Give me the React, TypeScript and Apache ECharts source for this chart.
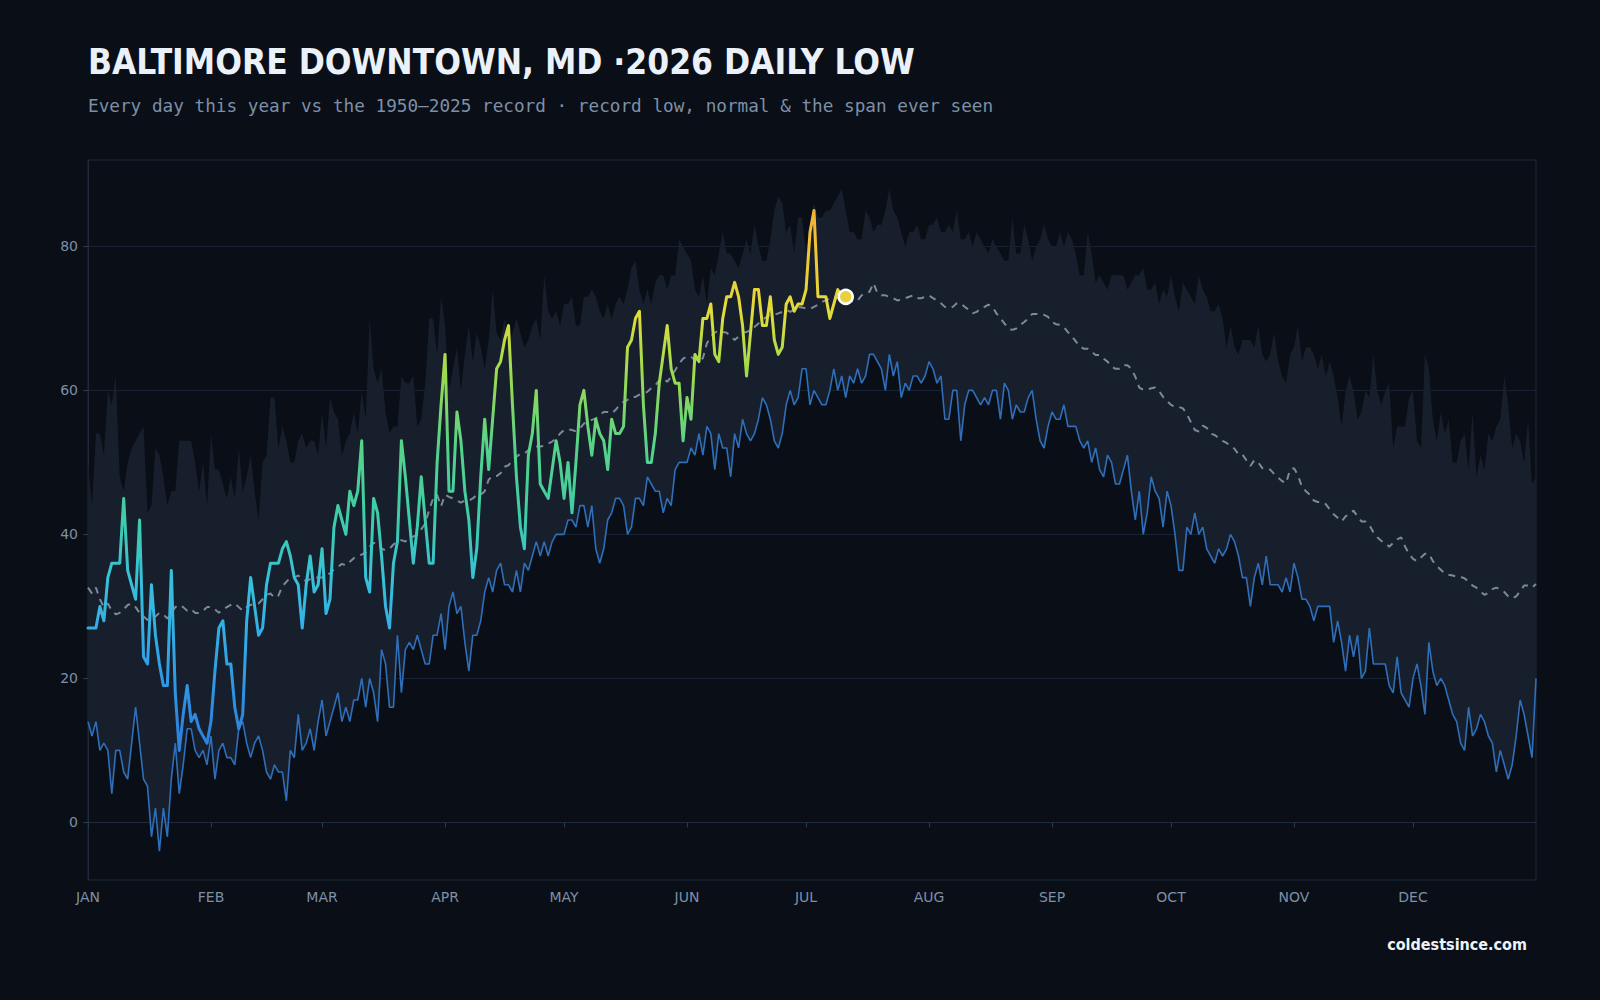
import React, { useEffect, useRef } from "react";
import * as echarts from "echarts";

// Day-of-year index where each month starts, and its axis label.
const MONTH_STARTS = [0, 31, 59, 90, 120, 151, 181, 212, 243, 273, 304, 334];
const MONTH_LABELS = ["JAN", "FEB", "MAR", "APR", "MAY", "JUN", "JUL", "AUG", "SEP", "OCT", "NOV", "DEC"];
const Y_TICKS = [0, 20, 40, 60, 80];

// Lowest daily low on record (1950–2025), °F, by day of year.
const RECORD_LOW = [
  14, 12, 14, 10, 11, 10, 4, 10, 10, 7,
  6, 11, 16, 11, 6, 5, -2, 2, -4, 2,
  -2, 6, 11, 4, 8, 13, 13, 10, 9, 10,
  8, 12, 6, 10, 11, 9, 9, 8, 13, 14,
  11, 9, 11, 12, 10, 7, 6, 8, 7, 7,
  3, 10, 9, 15, 10, 11, 13, 10, 14, 17,
  12, 14, 16, 18, 14, 16, 14, 17, 17, 20,
  16, 20, 18, 14, 24, 22, 16, 16, 26, 18,
  24, 25, 24, 26, 24, 22, 22, 26, 26, 29,
  24, 30, 32, 29, 30, 25, 21, 26, 26, 28,
  32, 34, 32, 35, 36, 33, 33, 32, 35, 32,
  36, 35, 37, 39, 37, 39, 37, 39, 40, 40,
  40, 42, 42, 41, 44, 44, 41, 44, 38, 36,
  38, 42, 43, 45, 45, 44, 40, 41, 45, 45,
  44, 48, 47, 46, 46, 43, 45, 44, 49, 50,
  50, 50, 52, 51, 54, 51, 55, 54, 49, 54,
  52, 52, 48, 54, 52, 56, 54, 53, 54, 56,
  59, 58, 56, 53, 52, 54, 58, 60, 58, 59,
  63, 63, 58, 60, 59, 58, 58, 60, 63, 60,
  62, 59, 62, 61, 63, 61, 62, 65, 65, 64,
  63, 60, 65, 62, 64, 59, 61, 60, 62, 62,
  61, 62, 64, 63, 61, 62, 56, 56, 60, 60,
  53, 58, 60, 60, 59, 58, 59, 58, 60, 60,
  56, 61, 60, 56, 58, 57, 57, 59, 60, 56,
  53, 52, 55, 57, 56, 56, 58, 55, 55, 55,
  53, 52, 53, 50, 52, 49, 48, 51, 50, 47,
  47, 49, 51, 46, 42, 46, 40, 43, 48, 46,
  45, 41, 46, 44, 40, 35, 35, 41, 40, 43,
  40, 41, 38, 37, 36, 38, 37, 38, 40, 39,
  37, 34, 34, 30, 34, 36, 33, 37, 33, 33,
  33, 32, 34, 32, 36, 34, 31, 31, 30, 28,
  30, 30, 30, 30, 25, 28, 25, 21, 26, 23,
  26, 20, 21, 27, 22, 22, 22, 22, 19, 18,
  23, 18, 17, 16, 20, 22, 19, 15, 25, 21,
  19, 20, 19, 17, 15, 14, 11, 10, 16, 12,
  13, 15, 14, 12, 11, 7, 10, 8, 6, 8,
  12, 17, 15, 12, 9, 20,
];

// Highest daily low on record (1950–2025), °F — top of the span ever seen.
const RECORD_HIGH = [
  50, 44, 54, 54, 51, 60, 58, 62, 48, 46,
  50, 52, 53, 54, 55, 43, 44, 52, 51, 48,
  44, 46, 46, 53, 53, 53, 53, 50, 46, 50,
  44, 54, 49, 49, 47, 45, 48, 45, 52, 46,
  48, 51, 46, 42, 50, 51, 59, 59, 52, 55,
  53, 50, 50, 53, 54, 52, 53, 53, 51, 57,
  52, 59, 57, 56, 51, 53, 54, 57, 54, 60,
  56, 70, 63, 61, 63, 57, 54, 55, 55, 62,
  61, 61, 62, 55, 56, 61, 70, 70, 65, 73,
  69, 60, 63, 66, 60, 65, 69, 64, 68, 66,
  63, 67, 74, 68, 67, 70, 66, 68, 70, 68,
  66, 67, 69, 70, 67, 76, 71, 70, 71, 69,
  72, 72, 73, 69, 69, 73, 73, 74, 73, 71,
  70, 72, 70, 72, 73, 72, 74, 77, 78, 74,
  72, 74, 72, 75, 76, 76, 74, 76, 76, 81,
  80, 79, 78, 74, 73, 76, 72, 77, 76, 79,
  82, 79, 79, 78, 77, 79, 81, 79, 83, 80,
  78, 78, 81, 85, 87, 86, 82, 83, 79, 84,
  84, 79, 83, 86, 84, 84, 85, 85, 86, 87,
  88, 85, 82, 82, 81, 81, 85, 84, 82, 83,
  83, 85, 88, 85, 84, 82, 80, 82, 82, 83,
  81, 81, 83, 83, 84, 82, 82, 83, 82, 85,
  81, 81, 82, 80, 82, 81, 80, 79, 81, 80,
  79, 78, 78, 84, 79, 79, 83, 81, 78, 80,
  81, 83, 81, 80, 80, 82, 80, 82, 81, 79,
  76, 76, 82, 79, 75, 76, 75, 74, 76, 76,
  76, 76, 74, 75, 76, 76, 77, 74, 74, 75,
  72, 74, 73, 76, 73, 71, 75, 74, 73, 72,
  76, 74, 73, 71, 71, 72, 70, 66, 69, 66,
  65, 67, 67, 67, 66, 69, 65, 64, 65, 68,
  64, 62, 61, 65, 66, 69, 64, 66, 66, 65,
  63, 65, 62, 64, 62, 59, 55, 60, 62, 60,
  56, 57, 60, 59, 65, 60, 58, 60, 61, 52,
  55, 55, 55, 59, 60, 53, 52, 65, 63, 56,
  53, 57, 54, 56, 50, 50, 53, 54, 49, 57,
  48, 51, 49, 54, 53, 55, 56, 62, 58, 52,
  54, 53, 50, 56, 47, 48,
];

// Normal daily low, °F.
const NORMAL = [
  32.6, 31.8, 32.6, 31, 29.9, 30.4, 29.4, 28.9, 29.1, 29.6,
  30.2, 30.4, 29.9, 29.1, 28.6, 28.1, 28.6, 28.6, 29.1, 28.9,
  28.3, 29.1, 29.9, 30.2, 29.9, 29.4, 29.6, 29.1, 29.1, 29.4,
  29.9, 29.9, 29.6, 29.1, 29.6, 29.9, 30.2, 30.4, 29.9, 29.4,
  29.9, 30.2, 30.4, 30.4, 31, 31.6, 31.8, 31.2, 31.5, 32.8,
  33.4, 34, 34, 34.3, 33.8, 33.5, 33.8, 34, 34, 34,
  34.3, 34.6, 35.1, 35.5, 35.9, 35.7, 36.2, 36.7, 37, 37.2,
  37.5, 38.3, 38.8, 38.8, 38, 37.8, 38, 38.6, 39.1, 39.2,
  39, 39.6, 39.7, 39.9, 40.7, 41.5, 43.4, 45, 45.5, 43.9,
  45.5, 45.2, 45, 44.7, 44.4, 44.7, 44.7, 45, 45.5, 45.5,
  46, 47.6, 48.1, 48.1, 48.5, 49.4, 49.6, 50.3, 50.8, 51.2,
  51.2, 51.7, 52, 52.2, 52.2, 52.3, 52.6, 52.9, 53.3, 54,
  54.5, 54.6, 54.5, 54.3, 54.7, 55.4, 55.6, 55.9, 56.1, 56.6,
  57, 57, 56.8, 57.3, 58, 58.4, 58.7, 59.1, 59.1, 59.4,
  59.6, 59.8, 60.3, 60.7, 61.4, 61.7, 61.2, 61.9, 62.8, 63.7,
  64.4, 64.7, 64.7, 64.2, 64, 64.5, 66.5, 67.5, 68, 68.4,
  68.1, 68, 67.5, 67, 67.5, 68, 68.1, 68.4, 68.8, 69.3,
  69.8, 70.2, 70.5, 70.5, 70.7, 70.9, 71.2, 70.9, 71.2, 71.6,
  71.5, 71.4, 71.3, 71.6, 71.9, 72.3, 72.5, 72.8, 73, 72.8,
  72.5, 72.3, 72.5, 72.3, 72.5, 73.2, 73.5, 73.7, 74.9, 73.5,
  73.2, 73.2, 73, 72.8, 72.5, 72.6, 72.8, 73, 73.2, 72.8,
  72.8, 73, 73.2, 72.8, 72.5, 72.1, 71.6, 71.4, 71.6, 72.1,
  72.1, 71.6, 71.2, 70.7, 70.9, 71.4, 71.6, 71.9, 71.6, 70.7,
  70, 69.3, 68.6, 68.4, 68.6, 69.1, 69.5, 70, 70.6, 70.6,
  70.6, 70.5, 70.2, 69.5, 69.2, 69.1, 68.8, 68.1, 67.5, 66.8,
  66.1, 65.8, 65.8, 65.4, 64.9, 64.9, 64.4, 64, 63.3, 63,
  63, 63.5, 63.5, 63, 61.9, 60.4, 60.1, 60.1, 60.3, 60.4,
  59.9, 59.1, 58.5, 58, 57.7, 57.7, 57.5, 56.7, 55.6, 54.5,
  54.3, 55.1, 54.8, 54, 53.8, 53.4, 53, 52.7, 52.3, 51.9,
  51.1, 51.1, 50.3, 49.5, 50.3, 50, 49.2, 49, 49, 48.4,
  47.9, 47.4, 47.1, 49, 49.2, 48.2, 46.6, 46, 45.5, 44.7,
  44.5, 44.5, 44.2, 43.5, 42.8, 42.3, 41.8, 42.5, 42.9, 43.3,
  42.5, 41.8, 41.8, 41.3, 40.3, 39.6, 39.1, 38.8, 38.3, 38.8,
  39.3, 39.6, 38.3, 37.3, 36.6, 36.3, 36.8, 37.3, 37.3, 36.3,
  35.6, 35.1, 34.6, 34.4, 34.3, 34.1, 34.1, 33.9, 33.4, 32.9,
  32.6, 32.1, 31.6, 31.9, 32.4, 32.6, 32.4, 32, 31.4, 31.1,
  31.4, 32.1, 32.9, 32.9, 32.6, 33.1,
];

// 2026 observed daily low, °F, Jan 1 – Jul 11.
const DAILY_LOW_2026 = [
  27, 27, 27, 30, 28, 34, 36, 36, 36, 45,
  35, 33, 31, 42, 23, 22, 33, 26, 22, 19,
  19, 35, 18, 10, 15, 19, 14, 15, 13, 12,
  11, 14, 21, 27, 28, 22, 22, 16, 13, 15,
  28, 34, 30, 26, 27, 33, 36, 36, 36, 38,
  39, 37, 34, 33, 27, 33, 37, 32, 33, 38,
  29, 31, 41, 44, 42, 40, 46, 44, 46, 53,
  34, 32, 45, 43, 37, 30, 27, 36, 39, 53,
  48, 42, 36, 41, 48, 42, 36, 36, 50, 58,
  65, 46, 46, 57, 53, 46, 42, 34, 38, 48,
  56, 49, 56, 63, 64, 67, 69, 58, 48, 41,
  38, 51, 54, 60, 47, 46, 45, 49, 53, 50,
  45, 50, 43, 50, 58, 60, 55, 51, 56, 54,
  53, 49, 56, 54, 54, 55, 66, 67, 70, 71,
  58, 50, 50, 54, 61, 65, 69, 63, 61, 61,
  53, 59, 56, 65, 64, 70, 70, 72, 65, 64,
  70, 73, 73, 75, 73, 69, 62, 68, 74, 74,
  69, 69, 73, 67, 65, 66, 72, 73, 71, 72,
  72, 74, 82, 85, 73, 73, 73, 70, 72, 74,
  73, 73,
];

const BG = "#0a0e16";
const BAND = "#161f2b";
const AXIS = "#1f2b3b";
const LABEL = "#7d90a8";
const TITLE_FONT = "'DejaVu Sans Condensed', 'DejaVu Sans', sans-serif";

function monthLabel(index: number): string {
  const k = MONTH_STARTS.indexOf(index);
  return k >= 0 ? MONTH_LABELS[k] : "";
}

function buildOption() {
  const days = RECORD_LOW.map((_, i) => i);
  const spanHeight = RECORD_HIGH.map((v, i) => v - RECORD_LOW[i]);
  const lastDay = DAILY_LOW_2026.length - 1;
  const isMonthStart = (i: number) => MONTH_STARTS.includes(i);

  return {
    animation: false,
    backgroundColor: BG,
    textStyle: { fontFamily: "'DejaVu Sans', sans-serif" },
    grid: {
      left: 88,
      right: 64,
      top: 160,
      bottom: 120,
      show: true,
      borderColor: AXIS,
      borderWidth: 1,
      backgroundColor: "transparent",
    },
    graphic: [
      {
        type: "text",
        x: 88,
        y: 62,
        style: {
          text: "BALTIMORE DOWNTOWN, MD ·2026 DAILY LOW",
          fill: "#eaf1f8",
          fontSize: 35,
          fontWeight: "bold",
          fontFamily: TITLE_FONT,
          verticalAlign: "middle",
        },
      },
      {
        type: "text",
        x: 88,
        y: 106,
        style: {
          text: "Every day this year vs the 1950–2025 record · record low, normal & the span ever seen",
          fill: LABEL,
          fontSize: 17.7,
          fontFamily: "'DejaVu Sans Mono', monospace",
          verticalAlign: "middle",
        },
      },
      {
        type: "text",
        x: 1527,
        y: 944,
        style: {
          text: "coldestsince.com",
          fill: "#eef3f8",
          fontSize: 16,
          fontWeight: "bold",
          fontFamily: TITLE_FONT,
          align: "right",
          verticalAlign: "middle",
        },
      },
    ],
    xAxis: {
      type: "category",
      data: days,
      boundaryGap: false,
      axisLine: { lineStyle: { color: AXIS } },
      axisTick: {
        show: true,
        interval: (i: number) => isMonthStart(i),
        length: 5,
        lineStyle: { color: "#2b3a4d" },
      },
      axisLabel: {
        interval: (i: number) => isMonthStart(i),
        formatter: (_v: any, i: number) => monthLabel(i),
        color: LABEL,
        fontSize: 14,
        margin: 10,
      },
      splitLine: { show: false },
    },
    yAxis: {
      type: "value",
      min: -8,
      max: 92,
      axisLine: { show: true, lineStyle: { color: AXIS } },
      axisTick: { show: true, length: 5, customValues: Y_TICKS, lineStyle: { color: "#2b3a4d" } },
      axisLabel: { customValues: Y_TICKS, color: LABEL, fontSize: 14, margin: 10 },
      splitLine: { show: true, lineStyle: { color: "#172232", width: 1 } },
    },
    visualMap: {
      type: "continuous",
      show: false,
      seriesIndex: 4,
      dimension: 1,
      min: 5,
      max: 90,
      inRange: {
        color: [
          "#2a78d6", "#2e88df", "#32a6e6", "#37c0dc", "#3fcda6",
          "#55d38a", "#98da52", "#e2dc3a", "#f3c235", "#f59e30",
        ],
      },
    },
    series: [
      {
        name: "span-base",
        type: "line",
        data: RECORD_LOW,
        stack: "span",
        stackStrategy: "all",
        symbol: "none",
        silent: true,
        lineStyle: { opacity: 0, width: 0 },
        z: 1,
      },
      {
        name: "Span ever seen",
        type: "line",
        data: spanHeight,
        stack: "span",
        stackStrategy: "all",
        symbol: "none",
        silent: true,
        lineStyle: { opacity: 0, width: 0 },
        areaStyle: { color: BAND, opacity: 1 },
        z: 1,
      },
      {
        name: "Record low",
        type: "line",
        data: RECORD_LOW,
        symbol: "none",
        lineStyle: { color: "#2f6fba", width: 1.6 },
        z: 2,
      },
      {
        name: "Normal",
        type: "line",
        data: NORMAL,
        symbol: "none",
        lineStyle: { color: "#7b899c", width: 2, type: [7, 6] },
        z: 3,
      },
      {
        name: "2026",
        type: "line",
        data: DAILY_LOW_2026,
        symbol: "none",
        lineStyle: { width: 3, join: "round", cap: "round" },
        z: 4,
      },
      {
        name: "Latest",
        type: "scatter",
        data: [[lastDay, DAILY_LOW_2026[lastDay]]],
        symbolSize: 14,
        itemStyle: { color: "#e8d13f", borderColor: "#ffffff", borderWidth: 2.5, opacity: 1 },
        z: 5,
      },
    ],
  };
}

export default function App() {
  const ref = useRef<HTMLDivElement>(null);

  useEffect(() => {
    if (!ref.current) return;
    const chart = echarts.init(ref.current, null, { renderer: "svg" });
    chart.setOption(buildOption() as any);
    return () => chart.dispose();
  }, []);

  return (
    <div
      ref={ref}
      style={{ position: "fixed", left: 0, top: 0, width: 1600, height: 1000, background: BG }}
    />
  );
}
